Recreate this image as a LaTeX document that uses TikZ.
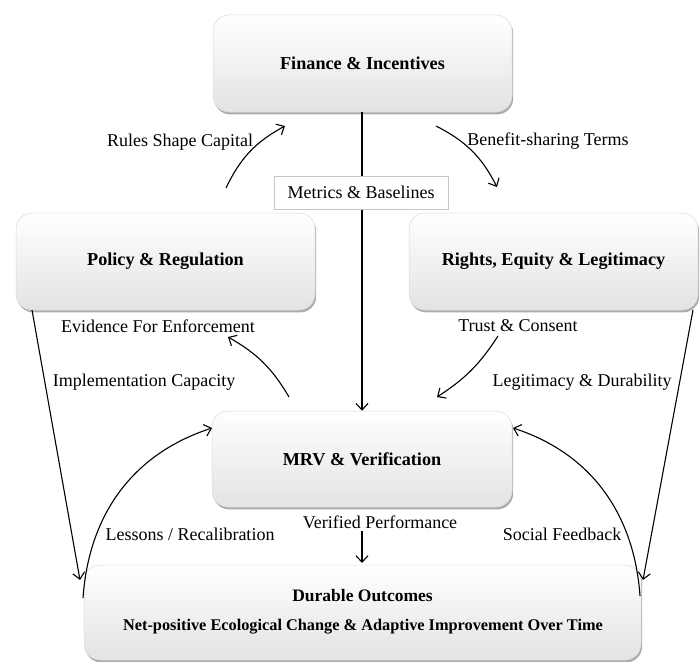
\documentclass[tikz,border=0pt]{standalone}
\usepackage{fontspec}
\setmainfont{Liberation Serif}
\usetikzlibrary{arrows.meta,shadows}

\begin{document}
\begin{tikzpicture}[x=1pt,y=1pt,
  box/.style={rectangle, rounded corners=16pt, draw=gray!30, line width=0.5pt,
    top color=white, middle color=white, bottom color=gray!22,
    drop shadow={shadow xshift=1.2pt, shadow yshift=-2.4pt, opacity=0.5, fill=gray!70!black},
    font=\bfseries\fontsize{18.2}{22}\selectfont, align=center, inner sep=0pt},
  lbl/.style={font=\fontsize{18}{22}\selectfont, inner sep=1pt},
  tag/.style={lbl, draw=gray!45, line width=0.5pt, fill=white, minimum width=174pt, minimum height=33pt},
  arr/.style={-{Straight Barb[length=6.5pt,width=12pt]}, line width=1.1pt}
]
\useasboundingbox (0,0) rectangle (700,-661);

% boxes
\node[box, minimum width=299pt, minimum height=97pt] (fin) at (362.5,-63.5) {Finance \& Incentives};
\node[box, minimum width=299pt, minimum height=97pt] (pol) at (165.5,-261.5) {Policy \& Regulation};
\node[box, minimum width=289pt, minimum height=97pt] (rig) at (553.5,-261.5) {Rights, Equity \& Legitimacy};
\node[box, minimum width=300pt, minimum height=96pt] (mrv) at (362,-459) {MRV \& Verification};
\node[box, minimum width=557pt, minimum height=95pt] (dur) at (362.5,-612.5) {};
\node[font=\bfseries\fontsize{17.5}{22}\selectfont] (durT) at (362.5,-596) {Durable Outcomes};
\node[font=\bfseries\fontsize{16.3}{20}\selectfont] (durS) at (363,-627) {Net-positive Ecological Change \& Adaptive Improvement Over Time};

% free ends of connectors
\coordinate (rsA) at (226,-188);
\coordinate (rsB) at (285,-126);
\coordinate (bsA) at (436,-126);
\coordinate (bsB) at (497,-187);
\coordinate (evA) at (289,-397);
\coordinate (evB) at (228,-337);
\coordinate (tcA) at (498,-336);
\coordinate (tcB) at (437,-397);
\coordinate (icA) at (32,-310);
\coordinate (icB) at (80,-580);
\coordinate (ldA) at (693,-310);
\coordinate (ldB) at (643,-580);
\coordinate (lrA) at (83,-598);
\coordinate (lrB) at (212,-428);
\coordinate (sfA) at (640,-596);
\coordinate (sfB) at (513,-428);
\coordinate (vpA) at (362,-531);
\coordinate (vpB) at (362,-563);

% connectors
\draw[arr] (fin.south -| mrv.north) -- (mrv.north);
\draw[arr] (rsA) to[bend left=18] (rsB);
\draw[arr] (bsA) to[bend left=18] (bsB);
\draw[arr] (evA) to[bend right=15] (evB);
\draw[arr] (tcA) to[bend left=12] (tcB);
\draw[arr] (icA) -- (icB);
\draw[arr] (ldA) -- (ldB);
\draw[arr] (lrA) to[out=86, in=198] (lrB);
\draw[arr] (sfA) to[out=94, in=-18] (sfB);
\draw[arr] (vpA) -- (vpB);

% labels
\node[tag] (met) at (361,-192.5) {Metrics \& Baselines};
\node[lbl] (lrs) at (180,-142) {Rules Shape Capital};
\node[lbl] (lbs) at (548,-141) {Benefit-sharing Terms};
\node[lbl] (lev) at (158,-326) {Evidence For Enforcement};
\node[lbl] (lic) at (144,-382) {Implementation Capacity};
\node[lbl] (ltc) at (518,-326) {Trust \& Consent};
\node[lbl] (lld) at (582,-382) {Legitimacy \& Durability};
\node[lbl] (llr) at (190,-534) {Lessons / Recalibration};
\node[lbl] (lsf) at (562,-534) {Social Feedback};
\node[lbl] (lvp) at (380,-522) {Verified Performance};
\end{tikzpicture}
\end{document}
